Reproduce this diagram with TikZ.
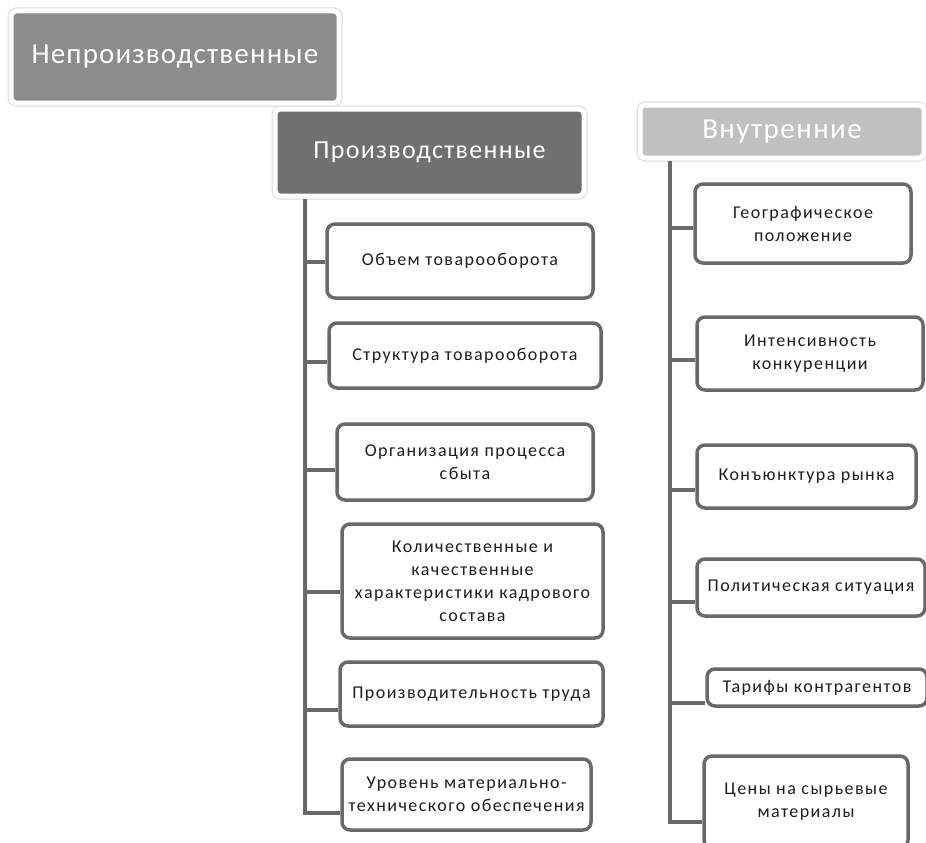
\documentclass[tikz,border=0pt]{standalone}
\usepackage{fontspec}
\setmainfont{Carlito}
\usetikzlibrary{positioning}
\definecolor{headgray}{RGB}{140,140,140}
\definecolor{headdark}{RGB}{112,112,112}
\definecolor{headlight}{RGB}{192,192,192}
\definecolor{linegray}{RGB}{105,105,105}
\definecolor{textdark}{RGB}{30,30,30}

\tikzset{
  headbox/.style={rounded corners=5pt, text=white, preaction={draw=black!15, line width=7pt},
    draw=white, line width=5pt, inner sep=0pt,
    font=\fontsize{29}{32}\selectfont\addfontfeatures{LetterSpace=4}},
  itembox/.style={draw=linegray, line width=3.5pt, rounded corners=8pt, fill=white,
    text=textdark, align=center, inner sep=1pt,
    font=\fontsize{18}{23}\selectfont\addfontfeatures{LetterSpace=8}},
  spine/.style={draw=linegray, line width=4pt, line join=miter}
}

\begin{document}
\begin{tikzpicture}[x=1pt,y=-1pt]
    \clip (0,0) rectangle (926,843);
    \fill[white] (0,0) rectangle (926,843);

    % Headers
    \node[headbox, fill=headgray, minimum width=328pt, minimum height=92pt] (nonprod) at (175,57) {Непроизводственные};
    \node[headbox, fill=headdark, minimum width=309pt, minimum height=87pt,
      font=\fontsize{26}{30}\selectfont\addfontfeatures{LetterSpace=5}] (prod) at (429.5,152.5) {Производственные};
    \node[headbox, fill=headlight, minimum width=284pt, minimum height=53pt,
      font=\fontsize{29}{32}\selectfont\addfontfeatures{LetterSpace=5}] (inner) at (782,131.5) {Внутренние};

    % Production factors
    \node[itembox, minimum width=266pt, minimum height=74pt] (volume) at (460,261) {Объем товарооборота};
    \node[itembox, minimum width=272pt, minimum height=65pt] (struct) at (465,355.5) {Структура товарооборота};
    \node[itembox, minimum width=256pt, minimum height=76pt] (sales) at (465,462) {Организация процесса\\сбыта};
    \node[itembox, minimum width=261pt, minimum height=114pt] (staff) at (472.5,581) {Количественные и\\качественные\\характеристики кадрового\\состава};
    \node[itembox, minimum width=263pt, minimum height=64pt] (labour) at (471.5,694) {Производительность труда};
    \node[itembox, minimum width=249pt, minimum height=71pt] (supply) at (466.5,794.5) {Уровень материально-\\технического обеспечения};

    % Internal factors
    \node[itembox, minimum width=216pt, minimum height=79pt] (geo) at (803,223.5) {Географическое\\положение};
    \node[itembox, minimum width=226pt, minimum height=73pt] (compet) at (810,353.5) {Интенсивность\\конкуренции};
    \node[itembox, minimum width=219pt, minimum height=63pt] (market) at (806.5,476.5) {Конъюнктура рынка};
    \node[itembox, minimum width=228pt, minimum height=57pt] (polit) at (811,587.5) {Политическая ситуация};
    \node[itembox, minimum width=220pt, minimum height=37pt] (tariff) at (817,687.5) {Тарифы контрагентов};
    \node[itembox, minimum width=204pt, minimum height=92pt] (prices) at (806,802) {Цены на сырьевые\\материалы};

    % Spines
    \coordinate (spL) at (305,0);
    \coordinate (spR) at (670,0);
    \draw[spine] (spL |- prod.south) -- (spL |- 0,813) -- (supply.west |- 0,813);
    \foreach \n/\y in {volume/262,struct/362,sales/470,staff/592,labour/710}
      \draw[spine] (spL |- 0,\y) -- (\n.west |- 0,\y);
    \draw[spine] (spR |- inner.south) -- (spR |- 0,822) -- (prices.west |- 0,822);
    \foreach \n/\y in {geo/228,compet/360,market/490,polit/602,tariff/703}
      \draw[spine] (spR |- 0,\y) -- (\n.west |- 0,\y);
\end{tikzpicture}
\end{document}
